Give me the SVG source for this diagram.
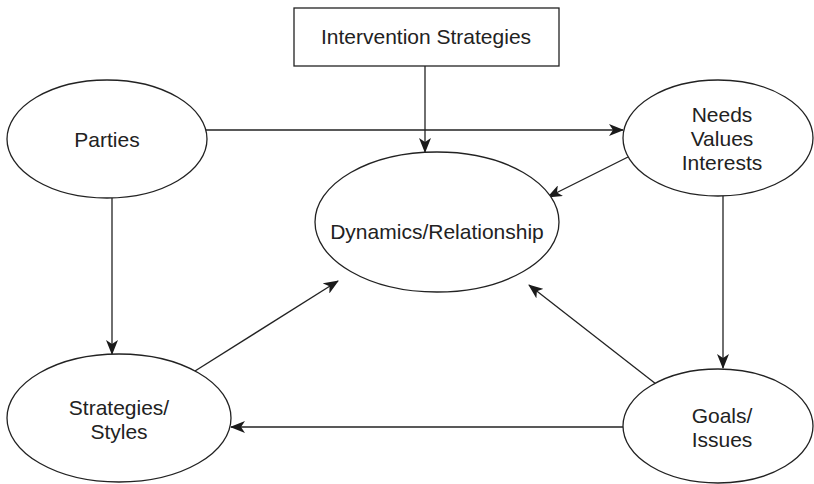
<svg xmlns="http://www.w3.org/2000/svg" width="814" height="484" viewBox="0 0 814 484">
<style>
.shape{fill:#fff;stroke:#222;stroke-width:1.3}
.lbl{font-family:"Liberation Sans",Arial,sans-serif;font-size:21px;fill:#222;text-anchor:middle}
.con{stroke:#222;stroke-width:1.3;fill:none;marker-end:url(#ah)}
</style>
<defs>
<marker id="ah" viewBox="0 0 15 12" refX="14" refY="6" markerWidth="15" markerHeight="12" markerUnits="userSpaceOnUse" orient="auto">
<path d="M0,0 L15,6 L0,12 L4,6 Z" fill="#1a1a1a"/>
</marker>
</defs>
<rect width="814" height="484" fill="#fff"/>
<g id="connectors">
<line class="con" x1="425" y1="66" x2="425" y2="152"/>
<line class="con" x1="206" y1="130" x2="623" y2="130"/>
<line class="con" x1="112" y1="198" x2="112" y2="354"/>
<line class="con" x1="628" y1="157" x2="548" y2="197"/>
<line class="con" x1="723" y1="196" x2="723" y2="368"/>
<line class="con" x1="195" y1="371" x2="338" y2="281"/>
<line class="con" x1="656" y1="384" x2="529" y2="285"/>
<line class="con" x1="623" y1="427" x2="231" y2="427"/>
</g>
<g id="intervention">
<rect class="shape" x="294" y="8" width="265" height="58"/>
<text class="lbl" x="426" y="44">Intervention Strategies</text>
</g>
<g id="parties">
<ellipse class="shape" cx="107" cy="139" rx="100" ry="59"/>
<text class="lbl" x="107" y="147">Parties</text>
</g>
<g id="needs">
<ellipse class="shape" cx="718" cy="138" rx="95" ry="58"/>
<text class="lbl" x="722" y="122">Needs</text>
<text class="lbl" x="722" y="146">Values</text>
<text class="lbl" x="722" y="170">Interests</text>
</g>
<g id="dynamics">
<ellipse class="shape" cx="437" cy="222" rx="122" ry="70"/>
<text class="lbl" x="437" y="239">Dynamics/Relationship</text>
</g>
<g id="strategies">
<ellipse class="shape" cx="119" cy="418" rx="112" ry="64"/>
<text class="lbl" x="119" y="415">Strategies/</text>
<text class="lbl" x="119" y="439">Styles</text>
</g>
<g id="goals">
<ellipse class="shape" cx="718" cy="426" rx="95" ry="57"/>
<text class="lbl" x="722" y="423">Goals/</text>
<text class="lbl" x="722" y="447">Issues</text>
</g>
</svg>
